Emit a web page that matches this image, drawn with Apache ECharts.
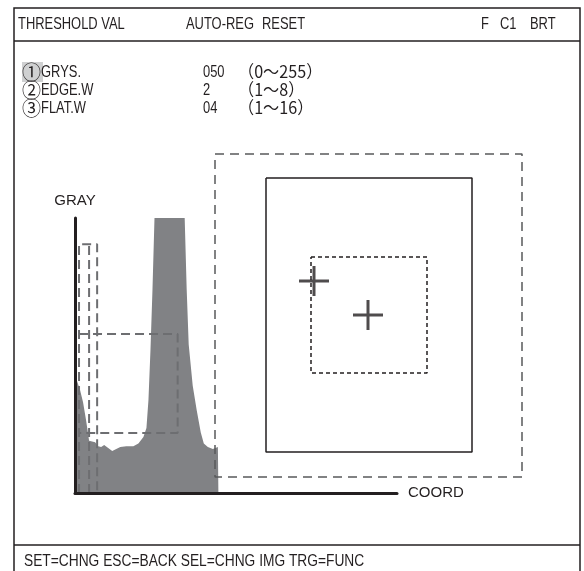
<!DOCTYPE html>
<html>
<head>
<meta charset="utf-8">
<style>
    html, body { margin: 0; padding: 0; background: #fff; }
    #main { width: 584px; height: 571px; }
</style>
<script src="https://cdn.jsdelivr.net/npm/echarts@6/dist/echarts.min.js"></script>
</head>
<body>
<div id="main"></div>
<script>
// 直方图 (x = 坐标, y = 灰度)
var histX = [0, 2, 5, 8, 11, 14, 15, 20, 23, 26, 29, 33, 37, 41, 45, 51, 58, 63, 68, 71, 73, 75, 77, 79, 109, 111, 113, 117, 121, 125, 128, 132, 137, 142, 142.5];
var histY = [41.5, 40.7, 37.5, 33, 26.5, 19, 18.5, 18.5, 17, 16.7, 17.5, 16.4, 15.3, 16, 16.7, 17, 17, 18, 20.4, 23.6, 33.8, 52, 74, 100, 100, 74, 54, 39, 30, 22, 18, 16.7, 16, 16.7, 0];
// 直方图上的虚线
var gateX = [4, 14, 22];
var gateTop = 90.5;
var bandX = [4, 102];
var bandY = [21.8, 57.8];
// 画面区域 [x0, y0, x1, y1]
var outerBox = [0, 0, 307, 323];
var solidBox = [51, 24, 257, 298];
var dotBox = [96, 103, 212, 219];
var crosses = [[99, 127], [153, 161]];
// 文字
var headerItems = ['THRESHOLD VAL', 'AUTO-REG', 'RESET', 'F', 'C1', 'BRT'];
var headerX = [18, 186, 262, 481, 500, 530];
var rowMarks = ['①', '②', '③'];
var rowNames = ['GRYS.', 'EDGE.W', 'FLAT.W'];
var rowValues = ['050', '2', '04'];
var rowRanges = ['（0～255）', '（1～8）', '（1～16）'];
var footerText = 'SET=CHNG ESC=BACK SEL=CHNG IMG TRG=FUNC';

var FONT = '"Liberation Sans", Arial, sans-serif';
var CJK = '"Noto Sans CJK JP", "Noto Sans CJK SC", sans-serif';
var INK = '#231f20';
var NARROW = 0.76; // 窄体字

function rectPath(b) {
    return [[b[0], b[1]], [b[2], b[1]], [b[2], b[3]], [b[0], b[3]], [b[0], b[1]]];
}
function label(t, x, y, font, sx) {
    return {
        type: 'text', x: x, y: y, scaleX: sx || NARROW, z: 2,
        style: { text: t, font: font || ('17px ' + FONT), fill: INK, textVerticalAlign: 'middle' }
    };
}

var myChart = echarts.init(document.getElementById('main'));

var histData = histX.map(function(x, i) { return [x, histY[i]]; });

var series = [{
    type: 'line',
    xAxisIndex: 0, yAxisIndex: 0,
    data: histData,
    symbol: 'none',
    lineStyle: { width: 0 },
    areaStyle: { color: '#818285', opacity: 1 },
    z: 1,
    silent: true
}];

var dashStyle = { color: '#6d6e71', width: 2, type: [9, 5] };
// 竖虚线 + 顶部横线
series.push({
    type: 'line', xAxisIndex: 0, yAxisIndex: 0, symbol: 'none', clip: false, z: 3,
    lineStyle: dashStyle,
    data: [[gateX[0], 0], [gateX[0], gateTop], [gateX[2], gateTop], [gateX[2], 0]]
});
series.push({
    type: 'line', xAxisIndex: 0, yAxisIndex: 0, symbol: 'none', clip: false, z: 3,
    lineStyle: dashStyle,
    data: [[gateX[1], 0], [gateX[1], gateTop]]
});
series.push({
    type: 'line', xAxisIndex: 0, yAxisIndex: 0, symbol: 'none', clip: false, z: 3,
    lineStyle: dashStyle,
    data: [[bandX[0], bandY[1]], [bandX[1], bandY[1]], [bandX[1], bandY[0]], [bandX[0], bandY[0]]]
});

// 画面区域
series.push({
    type: 'line', xAxisIndex: 1, yAxisIndex: 1, symbol: 'none', clip: false, z: 3,
    lineStyle: { color: '#58595b', width: 1.5, type: [9, 6] },
    data: rectPath(outerBox)
});
series.push({
    type: 'line', xAxisIndex: 1, yAxisIndex: 1, symbol: 'none', clip: false, z: 3,
    lineStyle: { color: INK, width: 1.5, type: 'solid' },
    data: rectPath(solidBox)
});
series.push({
    type: 'line', xAxisIndex: 1, yAxisIndex: 1, symbol: 'none', clip: false, z: 3,
    lineStyle: { color: INK, width: 1.5, type: [4, 3] },
    data: rectPath(dotBox)
});
series.push({
    type: 'scatter', xAxisIndex: 1, yAxisIndex: 1, z: 4,
    symbol: 'path://M0,13.5L30,13.5L30,16.5L0,16.5Z M13.5,0L16.5,0L16.5,30L13.5,30Z',
    symbolSize: 30,
    itemStyle: { color: INK },
    data: crosses
});

// 文字和边框
var graphics = [
    { type: 'rect', shape: { x: 14, y: 8, width: 566, height: 600 }, style: { fill: 'none', stroke: INK, lineWidth: 1.5 } },
    { type: 'line', shape: { x1: 14, y1: 41, x2: 580, y2: 41 }, style: { stroke: INK, lineWidth: 1.5 } },
    { type: 'line', shape: { x1: 14, y1: 545, x2: 580, y2: 545 }, style: { stroke: INK, lineWidth: 1.5 } },
    { type: 'rect', shape: { x: 22, y: 62, width: 21, height: 20 }, style: { fill: '#cfd0d1' }, z: 1 },
    label(footerText, 24, 562, '16px ' + FONT, 0.86)
];
headerItems.forEach(function(t, i) {
    graphics.push(label(t, headerX[i], 24));
});
rowNames.forEach(function(t, i) {
    var y = 72 + i * 18;
    graphics.push(label(rowMarks[i], 22, y, '20px ' + CJK, 0.95));
    graphics.push(label(t, 41, y));
    graphics.push(label(rowValues[i], 203, y));
    graphics.push(label(rowRanges[i], 238, y, '17px ' + CJK, 0.95));
});

var option = {
    animation: false,
    backgroundColor: '#fff',
    grid: [
        { left: 75, top: 218, width: 322, height: 275 },
        { left: 215, top: 154, width: 307, height: 323 }
    ],
    xAxis: [{
        type: 'value', gridIndex: 0, min: 0, max: 320, z: 5,
        name: 'COORD', nameLocation: 'end', nameGap: 11,
        nameTextStyle: { color: INK, fontSize: 15, fontFamily: FONT, verticalAlign: 'middle' },
        axisLine: { show: true, lineStyle: { color: INK, width: 3 } },
        axisTick: { show: false }, axisLabel: { show: false }, splitLine: { show: false }
    }, {
        type: 'value', gridIndex: 1, min: 0, max: 307, show: false
    }],
    yAxis: [{
        type: 'value', gridIndex: 0, min: 0, max: 100, z: 5,
        name: 'GRAY', nameLocation: 'end', nameGap: 10,
        nameTextStyle: { color: INK, fontSize: 15, fontFamily: FONT, align: 'center' },
        axisLine: { show: true, lineStyle: { color: INK, width: 3 } },
        axisTick: { show: false }, axisLabel: { show: false }, splitLine: { show: false }
    }, {
        type: 'value', gridIndex: 1, min: 0, max: 323, inverse: true, show: false
    }],
    series: series,
    graphic: graphics
};
myChart.setOption(option);
</script>
</body>
</html>
